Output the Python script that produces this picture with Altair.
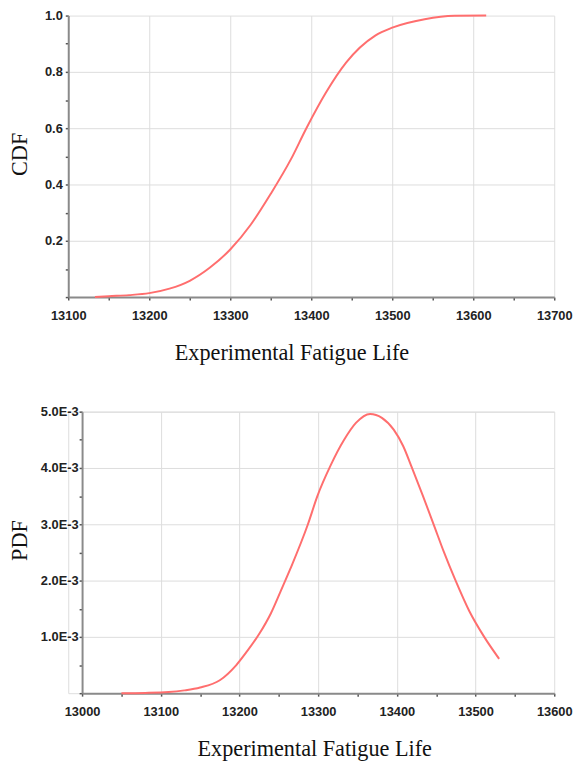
import altair as alt
import pandas as pd

# ---- data ----
cdf_life = [13133, 13150, 13175, 13200, 13225, 13250, 13275, 13300, 13325, 13350,
            13375, 13394, 13418, 13443, 13479, 13500, 13540, 13577, 13616]
cdf_val = [0.0, 0.003, 0.007, 0.014, 0.030, 0.058, 0.105, 0.169, 0.256, 0.367,
           0.490, 0.600, 0.726, 0.833, 0.929, 0.957, 0.987, 0.999, 1.0]

# PDF values in units of 1E-3
pdf_life = [13050, 13080, 13110, 13130, 13150, 13175, 13196, 13210, 13225, 13240,
            13252, 13265, 13287, 13299, 13316, 13333, 13348, 13366, 13381, 13396,
            13408, 13419, 13433, 13448, 13460, 13474, 13492, 13511, 13530]
pdf_val = [0.0, 0.005, 0.02, 0.05, 0.10, 0.23, 0.50, 0.75, 1.05, 1.42,
           1.80, 2.22, 3.00, 3.50, 4.05, 4.50, 4.80, 4.96, 4.89, 4.68,
           4.39, 4.01, 3.51, 2.95, 2.50, 2.02, 1.46, 1.00, 0.61]

top_ticks_x = list(range(13100, 13701, 50))
top_ticks_y = [round(i * 0.1, 1) for i in range(0, 11)]
bot_ticks_x = list(range(13000, 13601, 50))
bot_ticks_y = [round(i * 0.5, 1) for i in range(0, 11)]

LINE = "#ff6e6e"
LABEL_FONT = "Liberation Sans"
TITLE_FONT = "Liberation Serif"

common = dict(
    labelFont=LABEL_FONT, labelFontSize=13, labelFontWeight="bold", labelColor="#222222",
    labelOverlap=False, labelFlush=False,
    domainColor="#8a8a8a", domainWidth=2,
    tickColor="#555555", tickSize=3, tickWidth=1.5,
    gridColor="#dcdcdc", gridWidth=1,
    titleFont=TITLE_FONT, titleFontSize=22.5, titleFontWeight="normal", titleColor="#111111",
)

cdf_df = pd.DataFrame({"life": cdf_life, "cdf": cdf_val})
pdf_df = pd.DataFrame({"life": pdf_life, "pdf": pdf_val})

H = 285

top = alt.Chart(cdf_df).mark_line(color=LINE, strokeWidth=2, interpolate="monotone").encode(
    x=alt.X("life:Q",
            scale=alt.Scale(domain=[13100, 13700], nice=False, zero=False),
            axis=alt.Axis(
                values=top_ticks_x,
                labelExpr="datum.value % 100 == 0 ? '' + datum.value : ''",
                gridOpacity={"condition": {"test": "datum.value % 100 == 0 && datum.value > 13100 && datum.value < 13700", "value": 1}, "value": 0},
                title="Experimental Fatigue Life",
                titleX=226, titleY=63, titleBaseline="alphabetic", titleAlign="center",
                labelPadding=10,
                **common)),
    y=alt.Y("cdf:Q",
            scale=alt.Scale(domain=[0, 1], nice=False),
            axis=alt.Axis(
                values=top_ticks_y,
                labelExpr="datum.value > 0.05 && round(datum.value * 10) % 2 == 0 ? format(datum.value, '.1f') : ''",
                gridOpacity={"condition": {"test": "round(datum.value * 10) % 2 == 0 && datum.value > 0.05 && datum.value < 0.95", "value": 1}, "value": 0},
                title="CDF",
                titleX=-42, titleY=140, titleBaseline="alphabetic", titleAlign="center",
                labelPadding=3,
                **common)),
).properties(width=492, height=H)

bottom = alt.Chart(pdf_df).mark_line(color=LINE, strokeWidth=2, interpolate="monotone").encode(
    x=alt.X("life:Q",
            scale=alt.Scale(domain=[13000, 13600], nice=False, zero=False, range=[14, 492]),
            axis=alt.Axis(
                values=bot_ticks_x,
                labelExpr="datum.value % 100 == 0 ? '' + datum.value : ''",
                gridOpacity={"condition": {"test": "datum.value % 100 == 0 && datum.value > 13000 && datum.value < 13600", "value": 1}, "value": 0},
                title="Experimental Fatigue Life",
                titleX=249, titleY=63, titleBaseline="alphabetic", titleAlign="center",
                labelPadding=10,
                **common)),
    y=alt.Y("pdf:Q",
            scale=alt.Scale(domain=[0, 5], nice=False),
            axis=alt.Axis(
                values=bot_ticks_y,
                offset=-14,
                labelExpr="datum.value > 0.1 && round(datum.value * 2) % 2 == 0 ? format(datum.value, '.1f') + 'E-3' : ''",
                gridOpacity={"condition": {"test": "round(datum.value * 2) % 2 == 0 && datum.value > 0.1", "value": 1}, "value": 0},
                title="PDF",
                titleX=-56, titleY=130, titleBaseline="alphabetic", titleAlign="center",
                labelPadding=1,
                **common)),
).properties(width=492, height=H)

chart = alt.vconcat(top, bottom, spacing=41).properties(
    padding={"left": 0, "top": -4, "right": 0, "bottom": -3},
).configure_view(stroke=None).configure(background="white")

chart.save("out.html", embed_options={"renderer": "svg", "actions": False})
